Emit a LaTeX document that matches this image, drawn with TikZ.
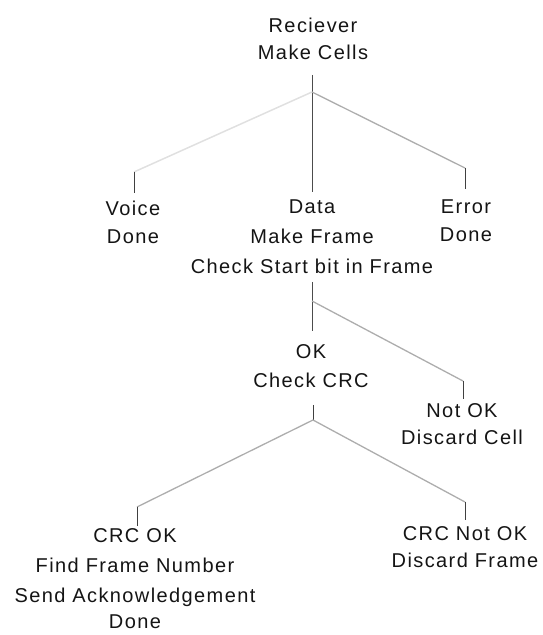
\documentclass[tikz,border=0pt]{standalone}
\usepackage{fontspec}
\setmainfont{Liberation Sans}[LetterSpace=7]
\begin{document}
\begin{tikzpicture}[x=1pt,y=1pt,
  label/.style={inner sep=0pt, align=center, anchor=north, text=black!92,
    font=\fontsize{20}{28}\selectfont},
  stem/.style={draw=black!70, line width=0.9pt},
  branch/.style={draw=black!32, line width=1.3pt},
  faint/.style={draw=black!12, line width=1.5pt},
  tick/.style={draw=black!75, line width=0.8pt}]
\useasboundingbox (0,0) rectangle (543,635);

% tree labels (anchored on the top of the first line)
\node[label] (rec)   at (313,617) {Reciever\\[-1pt]Make Cells};
\node[label] (voice) at (133,434) {Voice\\Done};
\node[label] (data)  at (312,435) {Data\\[2pt]Make Frame\\[2pt]Check Start bit in Frame};
\node[label] (err)   at (466,435) {Error\\Done};
\node[label] (ok)    at (311,291) {OK\\[1pt]Check CRC};
\node[label] (nok)   at (462,232) {Not OK\\[-1pt]Discard Cell};
\node[label] (crcok) at (135,107) {CRC OK\\[2pt]Find Frame Number\\[2pt]Send Acknowledgement\\[-2pt]Done};
\node[label] (crcno) at (465,109) {CRC Not OK\\[-1pt]Discard Frame};

% branch points and tick ends
\coordinate (s1)  at (312,560);
\coordinate (j1)  at (312,543);
\coordinate (e1)  at (312,443);
\coordinate (tv)  at (134,463);
\coordinate (bv)  at (134,442);
\coordinate (te)  at (465,467);
\coordinate (be)  at (465,446);
\coordinate (s2)  at (312,353);
\coordinate (j2)  at (312,334);
\coordinate (e2)  at (312,304);
\coordinate (tn)  at (463,254);
\coordinate (bn)  at (463,236);
\coordinate (s3)  at (313,230);
\coordinate (j3)  at (313,215);
\coordinate (tc)  at (137,128);
\coordinate (bc)  at (137,109);
\coordinate (tr)  at (465,133);
\coordinate (br)  at (465,115);

% first level
\draw[stem]   (s1) -- (e1);
\draw[faint]  (j1) -- (tv);
\draw[tick]   (tv) -- (bv);
\draw[branch] (j1) -- (te);
\draw[tick]   (te) -- (be);

% second level
\draw[stem]   (s2) -- (e2);
\draw[branch] (j2) -- (tn);
\draw[tick]   (tn) -- (bn);

% third level
\draw[tick]   (s3) -- (j3);
\draw[branch] (j3) -- (tc);
\draw[tick]   (tc) -- (bc);
\draw[branch] (j3) -- (tr);
\draw[tick]   (tr) -- (br);
\end{tikzpicture}
\end{document}
